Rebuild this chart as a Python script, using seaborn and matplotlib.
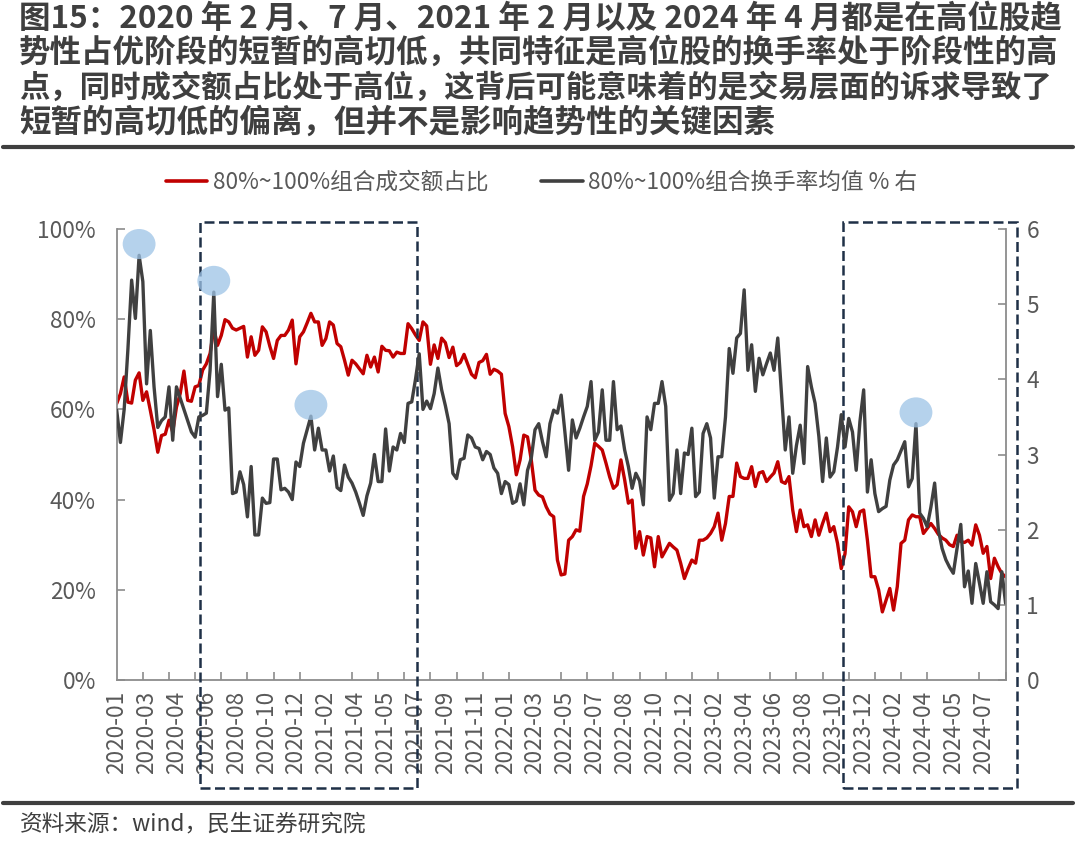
import numpy as np
import pandas as pd
import matplotlib
matplotlib.use("Agg")
import matplotlib.pyplot as plt
import matplotlib.transforms as mtransforms
from matplotlib.patches import Rectangle, Ellipse
from matplotlib.lines import Line2D
import seaborn as sns

sns.set_theme(style="white")
plt.rcParams["font.family"] = ["Noto Sans CJK SC", "DejaVu Sans"]
plt.rcParams["axes.unicode_minus"] = False

# ---------------- data ----------------
title_lines = [
    "图15：2020 年 2 月、7 月、2021 年 2 月以及 2024 年 4 月都是在高位股趋",
    "势性占优阶段的短暂的高切低，共同特征是高位股的换手率处于阶段性的高",
    "点，同时成交额占比处于高位，这背后可能意味着的是交易层面的诉求导致了",
    "短暂的高切低的偏离，但并不是影响趋势性的关键因素",
]
source_text = "资料来源：wind，民生证券研究院"
series_names = ["80%~100%组合成交额占比", "80%~100%组合换手率均值 % 右"]

tick_labels = [
    "2020-01", "2020-03", "2020-04", "2020-06", "2020-08", "2020-10", "2020-12",
    "2021-02", "2021-04", "2021-05", "2021-07", "2021-09", "2021-11",
    "2022-01", "2022-03", "2022-05", "2022-07", "2022-08", "2022-10", "2022-12",
    "2023-02", "2023-04", "2023-06", "2023-08", "2023-10", "2023-12",
    "2024-02", "2024-04", "2024-05", "2024-07",
]

# weekly share of turnover (%) of the 80%~100% group, left axis
share = [
    61.3, 63.5, 67.2, 61.6, 61.4, 66.5, 68.1, 62.0, 63.9, 59.8,
    55.5, 50.5, 54.2, 54.5, 57.6, 55.0, 60.5, 63.5, 68.5, 62.0,
    61.8, 65.0, 65.3, 68.7, 70.1, 72.4, 77.9, 74.2, 76.4, 79.9,
    79.4, 78.0, 77.6, 78.0, 78.4, 71.6, 76.1, 72.0, 73.1, 78.3,
    77.2, 74.0, 71.3, 75.3, 76.4, 76.4, 77.6, 79.8, 70.1, 76.1,
    77.2, 79.2, 81.3, 79.4, 79.4, 74.2, 75.7, 79.4, 78.7, 74.6,
    73.9, 70.9, 67.6, 70.9, 70.1, 69.0, 67.9, 72.0, 69.4, 71.6,
    68.3, 74.0, 73.1, 73.0, 71.6, 72.7, 72.4, 72.4, 79.0, 77.9,
    76.5, 75.3, 79.4, 78.5, 70.0, 74.3, 71.3, 75.8, 74.8, 71.5,
    73.8, 69.7, 70.4, 72.2, 70.0, 67.8, 67.0, 70.4, 70.8, 72.2,
    67.8, 68.9, 68.5, 67.8, 59.1, 56.2, 51.7, 45.5, 48.8, 54.3,
    53.9, 48.8, 42.1, 41.0, 40.6, 38.4, 36.8, 36.2, 26.6, 23.3,
    23.5, 31.0, 31.8, 33.3, 33.0, 40.7, 43.5, 47.5, 52.5, 51.8,
    51.0, 48.1, 45.0, 42.5, 43.3, 48.8, 44.4, 39.2, 39.9, 29.2,
    32.9, 27.7, 31.8, 31.5, 25.1, 31.8, 27.3, 28.8, 30.3, 29.5,
    28.8, 25.9, 22.5, 24.7, 26.6, 25.9, 31.0, 31.0, 31.5, 32.5,
    34.0, 37.0, 31.0, 34.7, 40.7, 40.7, 48.1, 45.1, 44.7, 44.7,
    47.3, 42.9, 45.9, 46.2, 44.0, 45.0, 45.9, 48.4, 44.0, 43.6,
    45.1, 37.7, 32.9, 37.7, 34.0, 34.4, 31.8, 35.5, 32.1, 34.7,
    37.0, 32.9, 34.0, 30.3, 24.7, 28.0, 38.4, 37.3, 34.0, 37.3,
    37.7, 31.0, 22.9, 22.9, 20.0, 15.1, 17.7, 20.3, 15.5, 20.7,
    30.3, 31.0, 35.5, 36.6, 36.2, 36.2, 32.5, 33.6, 34.7, 33.6,
    32.3, 31.5, 31.0, 30.0, 29.6, 32.1, 30.7, 30.5, 31.0, 29.9,
    34.4, 32.1, 28.1, 29.6, 22.5, 27.0, 25.1, 23.6, 22.9,
]

# weekly average turnover rate (%) of the 80%~100% group, right axis
turnover = [
    3.59, 3.16, 3.60, 4.40, 5.32, 4.81, 5.65, 5.30, 3.94, 4.65,
    3.90, 3.36, 3.45, 3.50, 3.90, 3.19, 3.90, 3.75, 3.60, 3.45,
    3.30, 3.23, 3.50, 3.52, 3.55, 4.12, 5.16, 3.77, 4.20, 3.59,
    3.62, 2.48, 2.50, 2.77, 2.60, 2.17, 2.84, 1.93, 1.93, 2.42,
    2.35, 2.36, 2.94, 2.94, 2.53, 2.55, 2.50, 2.40, 2.90, 2.84,
    3.15, 3.33, 3.51, 3.06, 3.35, 3.06, 3.06, 2.78, 2.98, 2.56,
    2.52, 2.86, 2.70, 2.62, 2.50, 2.35, 2.19, 2.45, 2.62, 3.00,
    2.64, 2.64, 3.34, 2.78, 3.10, 3.06, 3.28, 3.16, 3.68, 3.70,
    4.00, 4.34, 3.60, 3.71, 3.61, 3.81, 4.15, 3.86, 3.65, 3.41,
    2.75, 2.68, 2.93, 2.95, 3.26, 3.22, 3.10, 3.08, 2.93, 3.04,
    3.00, 2.82, 2.75, 2.48, 2.64, 2.60, 2.35, 2.38, 2.61, 2.33,
    2.79, 2.95, 3.33, 3.41, 3.17, 2.97, 3.41, 3.59, 3.55, 3.79,
    3.30, 2.79, 3.46, 3.22, 3.35, 3.50, 3.64, 3.97, 3.19, 3.30,
    3.86, 3.19, 3.19, 3.97, 3.33, 3.38, 3.06, 2.84, 2.55, 2.75,
    2.65, 2.33, 3.50, 3.33, 3.68, 3.68, 3.97, 3.64, 2.39, 2.48,
    3.06, 2.48, 3.02, 3.00, 3.35, 2.44, 2.50, 3.28, 3.41, 3.22,
    2.42, 2.97, 2.97, 3.50, 4.41, 4.08, 4.55, 4.61, 5.19, 4.12,
    4.46, 3.84, 4.28, 4.06, 4.21, 4.35, 4.12, 4.55, 3.81, 3.06,
    3.50, 2.75, 3.12, 3.39, 2.88, 4.17, 3.90, 3.68, 3.24, 2.64,
    3.22, 2.70, 2.77, 3.10, 3.53, 3.10, 3.48, 3.30, 2.79, 3.44,
    3.86, 2.50, 2.93, 2.48, 2.24, 2.28, 2.31, 2.66, 2.86, 2.93,
    3.05, 3.17, 2.57, 2.68, 3.41, 2.22, 2.15, 2.04, 2.30, 2.62,
    2.00, 1.75, 1.60, 1.50, 1.42, 1.75, 2.07, 1.24, 1.45, 1.02,
    1.55, 1.29, 1.02, 1.44, 1.04, 1.00, 0.95, 1.44, 1.02,
]

# annotations (week indices)
highlight_weeks = [6, 26, 52, 214]
box_spans = [(22.2, 80.5), (194.4, 241.1)]
label_step = 8
minor_step = 7

# ---------------- style ----------------
RED = "#C00000"
GRAY = "#404040"
AXIS = "#8C8C8C"
TXT = "#595959"
DARK = "#3F3F3F"
W, H = 1080, 847

n = len(share)
df = pd.DataFrame({"week": np.arange(n), "share": share, "turnover": turnover})

fig = plt.figure(figsize=(W / 100, H / 100), dpi=100)
x0, x1 = 116.7 / W, 1005.6 / W
y0, y1 = 1 - 680 / H, 1 - 229 / H
ax = fig.add_axes([x0, y0, x1 - x0, y1 - y0])
ax2 = ax.twinx()

sns.lineplot(data=df, x="week", y="share", ax=ax, color=RED, lw=2.4, legend=False)
sns.lineplot(data=df, x="week", y="turnover", ax=ax2, color=GRAY, lw=2.4, legend=False)

ax.set_xlim(0, n - 1)
ax.set_ylim(0, 100)
ax2.set_ylim(0, 6)
ax.set_xlabel("")
ax.set_ylabel("")
ax2.set_ylabel("")

for a in (ax, ax2):
    for s in a.spines.values():
        s.set_visible(False)
ax.spines["left"].set_visible(True)
ax.spines["bottom"].set_visible(True)
ax2.spines["right"].set_visible(True)
for s in (ax.spines["left"], ax.spines["bottom"], ax2.spines["right"]):
    s.set_color(AXIS)
    s.set_linewidth(1.3)

ax.set_yticks(np.arange(0, 101, 20))
ax.set_yticklabels([f"{v}%" for v in range(0, 101, 20)])
ax2.set_yticks(np.arange(0, 7, 1))
ax2.set_yticklabels([str(v) for v in range(0, 7)])

major = np.arange(0, n, label_step)[: len(tick_labels)]
ax.set_xticks(major)
ax.set_xticklabels(tick_labels, rotation=90)
ax.set_xticks(np.arange(0, n, minor_step), minor=True)

ax.tick_params(axis="y", direction="in", length=6, width=1.2, color=AXIS,
               labelsize=16.3, labelcolor=TXT, pad=15, left=True)
ax2.tick_params(axis="y", direction="in", length=6, width=1.2, color=AXIS,
                labelsize=16.3, labelcolor=TXT, pad=15, right=True)
ax.tick_params(axis="x", which="major", length=0, labelsize=16.3, labelcolor=TXT, pad=8)
ax.tick_params(axis="x", which="minor", direction="in", length=6, width=1.2,
               color=AXIS, bottom=True)
ax.grid(False)
ax2.grid(False)

# highlight ellipses above turnover peaks
for wk in highlight_weeks:
    e = Ellipse((wk, turnover[wk] + 0.15), width=8.8, height=0.40,
                facecolor="#9DC3E6", edgecolor="none", alpha=0.75, zorder=6)
    ax2.add_patch(e)

# dashed boxes spanning into the tick-label area
blend = mtransforms.blended_transform_factory(ax.transData, fig.transFigure)
by0, by1 = 1 - 788 / H, 1 - 222 / H
for a, b in box_spans:
    r = Rectangle((a, by0), b - a, by1 - by0, transform=blend, fill=False,
                  edgecolor="#1F3047", lw=1.8, ls=(0, (4, 1.8)), clip_on=False, zorder=7)
    ax.add_patch(r)
ax.set_xlim(0, n - 1)

# legend
handles = [Line2D([], [], color=RED, lw=2.6), Line2D([], [], color=GRAY, lw=2.6)]
leg = fig.legend(handles, series_names, loc="center", bbox_to_anchor=(541.5 / W, 1 - 182 / H),
                 ncol=2, frameon=False, fontsize=16.3, handlelength=1.85, handletextpad=0.25,
                 columnspacing=2.3, labelcolor=TXT)

# title (line 3 has an extra character, so it is set slightly tighter)
title_sizes = [22.7, 22.7, 21.9, 22.7]
for k, (line, fs) in enumerate(zip(title_lines, title_sizes)):
    fig.text(19 / W, 1 - (18 + 35 * k) / H, line, fontsize=fs, fontweight="bold",
             color=DARK, ha="left", va="center")

# rules and source
for yy in (147, 803):
    fig.add_artist(Line2D([3 / W, 1073 / W], [1 - yy / H] * 2, color=DARK, lw=3))
fig.text(20 / W, 1 - 824 / H, source_text, fontsize=16.3, color=DARK, ha="left", va="center")

fig.savefig("out.png", dpi=100)
